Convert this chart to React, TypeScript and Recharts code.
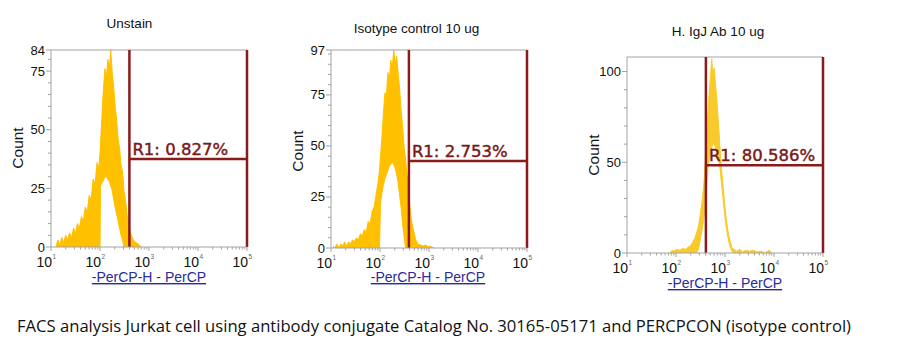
import React from "react";
import { ComposedChart, Area, XAxis, YAxis, ReferenceLine } from "recharts";

// Unstain histogram (x = log10 of PerCP-H)
const unstainLog = [1.10, 1.14, 1.18, 1.22, 1.26, 1.30, 1.34, 1.38, 1.42, 1.46, 1.50, 1.54, 1.58, 1.62, 1.66, 1.70, 1.74, 1.78, 1.82, 1.86, 1.90, 1.94, 1.98, 2.00, 2.01, 2.03, 2.06, 2.10, 2.13, 2.16, 2.19, 2.22, 2.25, 2.28, 2.31, 2.34, 2.37, 2.40, 2.43, 2.46, 2.49, 2.52, 2.55, 2.58, 2.61, 2.64, 2.68, 2.72, 2.76, 2.80, 2.84];
const unstainHi = [0, 3, 1, 4, 2, 5, 3, 6, 4, 8, 6, 10, 8, 13, 11, 17, 15, 22, 20, 29, 27, 36, 34, 40, 44, 52, 64, 76, 72, 80, 76, 84, 74, 68, 60, 54, 46, 42, 35, 32, 24, 20, 14, 10, 7, 5, 3, 2, 1.5, 1, 0];
const unstainLo = [0, 0, 0, 0, 0, 0, 0, 0, 0, 0, 0, 0, 0, 0, 0, 0, 0, 0, 0, 0, 0, 0, 0, 0, 26, 27, 28, 30, 30, 29, 28, 26, 24, 20, 17, 14, 11, 8, 5, 3, 0, 0, 0, 0, 0, 0, 0, 0, 0, 0, 0];

// Isotype control 10 ug
const isoLog = [1.04, 1.08, 1.12, 1.16, 1.20, 1.24, 1.28, 1.32, 1.36, 1.40, 1.44, 1.48, 1.52, 1.56, 1.60, 1.64, 1.68, 1.72, 1.76, 1.80, 1.84, 1.88, 1.92, 1.96, 1.99, 2.01, 2.04, 2.07, 2.10, 2.13, 2.16, 2.19, 2.22, 2.25, 2.28, 2.31, 2.34, 2.37, 2.40, 2.43, 2.46, 2.49, 2.52, 2.55, 2.58, 2.61, 2.64, 2.67, 2.70, 2.73, 2.77, 2.82, 2.88, 2.94, 2.98, 3.02, 3.06, 3.10];
const isoHi = [1, 0, 2, 0, 2, 1, 3, 1, 3, 2, 4, 3, 5, 4, 7, 6, 9, 8, 13, 12, 18, 20, 26, 32, 38, 45, 54, 66, 76, 74, 86, 82, 92, 88, 97, 90, 94, 86, 78, 68, 60, 50, 44, 36, 30, 20, 14, 10, 7, 4, 2, 1.5, 1, 1.5, 0.5, 1, 0.5, 0];
const isoLo = [0, 0, 0, 0, 0, 0, 0, 0, 0, 0, 0, 0, 0, 0, 0, 0, 0, 0, 0, 0, 0, 0, 0, 0, 0, 22, 27, 31, 34, 36, 38, 40, 41, 42, 41, 39, 36, 32, 26, 20, 12, 6, 0, 0, 0, 0, 0, 0, 0, 0, 0, 0, 0, 0, 0, 0, 0, 0];

// H. IgJ Ab 10 ug
const igjLog = [1.88, 1.92, 1.96, 2.02, 2.08, 2.14, 2.20, 2.26, 2.30, 2.34, 2.38, 2.42, 2.46, 2.50, 2.54, 2.58, 2.62, 2.65, 2.68, 2.71, 2.73, 2.75, 2.78, 2.81, 2.84, 2.87, 2.90, 2.93, 2.96, 2.99, 3.02, 3.05, 3.08, 3.11, 3.14, 3.18, 3.24, 3.30, 3.36, 3.42, 3.50, 3.58, 3.66, 3.74, 3.82, 3.90, 3.96];
const igjHi = [0, 1.5, 1, 2, 1.5, 2.5, 2, 3.5, 4, 6, 8, 11, 15, 22, 30, 42, 62, 76, 89, 100, 107, 98, 102, 92, 82, 70, 57, 46, 37, 28, 20, 14, 9, 6, 3, 2, 1, 2, 0.5, 1.5, 1, 1.5, 0.5, 1, 0, 1.5, 0];
const igjLo = [0, 0, 0, 0, 0, 0, 0, 0, 0, 0, 0, 0, 2, 8, 14, 22, 34, 46, 52, 56, 58, 60, 60, 58, 56, 52, 46, 38, 30, 22, 15, 10, 6, 3, 1, 0, 0, 0, 0, 0, 0, 0, 0, 0, 0, 0, 0];

const titles = ["Unstain", "Isotype control 10 ug", "H. IgJ Ab 10 ug"];
const gateLabels = ["R1: 0.827%", "R1: 2.753%", "R1: 80.586%"];
const gateStart = [2.6, 2.59, 2.61];
const gateLevel = [37.5, 42.6, 48.3];
const yMax = [84, 97, 108];
const yMajor = [[0, 25, 50, 75, 84], [0, 25, 50, 75, 97], [0, 50, 100]];
const yStep = [5, 5, 10];
const xDecades = [1, 2, 3, 4, 5];

const ARIAL = "Arial, 'Liberation Sans', sans-serif";
const AXIS = "#a3a3a3";
const GATE = "#8b1a1a";

const xTicks: number[] = [];
xDecades.forEach((d) => {
  xTicks.push(d);
  if (d < 5) for (let k = 2; k <= 9; k++) xTicks.push(d + Math.log10(k));
});

const XTick = (props: any) => {
  const { x, y, payload } = props;
  const v = payload.value;
  const major = Math.abs(v - Math.round(v)) < 1e-6;
  return (
    <g>
      <line x1={x} x2={x} y1={y} y2={y + (major ? 4 : 2.5)} stroke={AXIS} />
      {major && (
        <>
          <text x={x + 1} y={y + 19.5} textAnchor="end" fontSize={14} fill="#111" fontFamily={ARIAL}>10</text>
          <text x={x + 1.5} y={y + 12} fontSize={6.5} fill="#666" fontFamily={ARIAL}>{Math.round(v)}</text>
        </>
      )}
    </g>
  );
};

const YTick = (props: any) => {
  const { x, y, payload, majors } = props;
  const v = payload.value;
  const major = majors.includes(v);
  return (
    <g>
      <line x1={x - (major ? 5 : 3)} x2={x} y1={y} y2={y} stroke={AXIS} />
      {major && (
        <text x={x - 6} y={y + 4.5} textAnchor="end" fontSize={13} fill="#111" fontFamily={ARIAL}>{v}</text>
      )}
    </g>
  );
};

const GateLabel = (props: any) => {
  const { viewBox, txt } = props;
  return (
    <text
      x={viewBox.x + 3}
      y={viewBox.y - 4}
      fontSize={16.5}
      fill="#7a1818"
      stroke="#7a1818"
      strokeWidth={0.45}
      fontFamily="'DejaVu Sans', Verdana, sans-serif"
    >
      {txt}
    </text>
  );
};

const panels = [
  { log: unstainLog, hi: unstainHi, lo: unstainLo, left: 51, right: 247, top: 50, bottom: 247, color: "#ffc000" },
  { log: isoLog, hi: isoHi, lo: isoLo, left: 331, right: 527, top: 50, bottom: 248, color: "#ffc000" },
  { log: igjLog, hi: igjHi, lo: igjLo, left: 627, right: 823, top: 57, bottom: 253, color: "#f8ca2c" },
];

function Histogram({ i }: { i: number }) {
  const p = panels[i];
  const data = p.log.map((x, j) => ({ x, range: [p.lo[j], p.hi[j]] }));
  const max = yMax[i];
  const yTicks: number[] = [];
  for (let v = 0; v <= max; v += yStep[i]) yTicks.push(v);
  yMajor[i].forEach((v) => { if (!yTicks.includes(v)) yTicks.push(v); });
  const yAxisW = 50;
  const height = 300;
  return (
    <div style={{ position: "absolute", left: p.left - yAxisW, top: 0 }}>
      <ComposedChart
        width={p.right - p.left + yAxisW + 20}
        height={height}
        data={data}
        margin={{ top: p.top, right: 20, bottom: 0, left: 0 }}
      >
        <XAxis
          type="number"
          dataKey="x"
          domain={[1, 5]}
          ticks={xTicks}
          interval={0}
          allowDataOverflow
          height={height - p.bottom}
          axisLine={{ stroke: AXIS }}
          tickLine={false}
          tickSize={0}
          tickMargin={0}
          tick={<XTick />}
        />
        <YAxis
          type="number"
          domain={[0, max]}
          ticks={yTicks}
          interval={0}
          allowDataOverflow
          width={yAxisW}
          axisLine={{ stroke: AXIS }}
          tickLine={false}
          tickSize={0}
          tickMargin={0}
          tick={<YTick majors={yMajor[i]} />}
        />
        <ReferenceLine y={max} stroke={AXIS} ifOverflow="visible" />
        <Area
          type="linear"
          dataKey="range"
          stroke={p.color}
          strokeWidth={1}
          fill={p.color}
          fillOpacity={1}
          dot={false}
          activeDot={false}
          isAnimationActive={false}
        />
        <ReferenceLine
          segment={[{ x: gateStart[i], y: 0 }, { x: gateStart[i], y: max }]}
          stroke={GATE}
          strokeWidth={2.5}
          ifOverflow="visible"
        />
        <ReferenceLine
          segment={[{ x: 5, y: 0 }, { x: 5, y: max }]}
          stroke={GATE}
          strokeWidth={2.5}
          ifOverflow="visible"
        />
        <ReferenceLine
          segment={[{ x: gateStart[i], y: gateLevel[i] }, { x: 5, y: gateLevel[i] }]}
          stroke={GATE}
          strokeWidth={2.5}
          ifOverflow="visible"
          label={<GateLabel txt={gateLabels[i]} />}
        />
      </ComposedChart>
    </div>
  );
}

const titlePos = [{ x: 129.5, y: 28 }, { x: 416.5, y: 33 }, { x: 718, y: 36 }];
const countPos = [{ x: 17.5, y: 148 }, { x: 297, y: 151 }, { x: 593, y: 155 }];
const axisLabelPos = [{ x: 149, y: 282 }, { x: 428, y: 282 }, { x: 725, y: 288 }];

export default function App() {
  return (
    <div style={{ position: "absolute", left: 0, top: 0, width: 916, height: 354, background: "#fff", overflow: "hidden" }}>
      {[0, 1, 2].map((i) => (
        <Histogram key={i} i={i} />
      ))}
      <svg width={916} height={354} style={{ position: "absolute", left: 0, top: 0, pointerEvents: "none" }}>
        {titles.map((t, i) => (
          <text key={t} x={titlePos[i].x} y={titlePos[i].y} textAnchor="middle" fontSize={13.5} fill="#111" fontFamily={ARIAL}>
            {t}
          </text>
        ))}
        {countPos.map((c, i) => (
          <text
            key={i}
            x={c.x}
            y={c.y}
            transform={`rotate(-90 ${c.x} ${c.y})`}
            textAnchor="middle"
            dominantBaseline="central"
            fontSize={15.5}
            fill="#111"
            fontFamily={ARIAL}
          >
            Count
          </text>
        ))}
        {axisLabelPos.map((c, i) => (
          <text key={i} x={c.x} y={c.y} textAnchor="middle" fontSize={14} fill="#2a2a9c" fontFamily={ARIAL} textDecoration="underline">
            -PerCP-H - PerCP
          </text>
        ))}
        <text
          x={17}
          y={332}
          fontSize={17}
          fill="#111"
          fontFamily="'Liberation Sans Narrow', 'Open Sans', sans-serif"
          textLength={834}
          lengthAdjust="spacingAndGlyphs"
        >
          FACS analysis Jurkat cell using antibody conjugate Catalog No. 30165-05171 and PERCPCON (isotype control)
        </text>
      </svg>
    </div>
  );
}
